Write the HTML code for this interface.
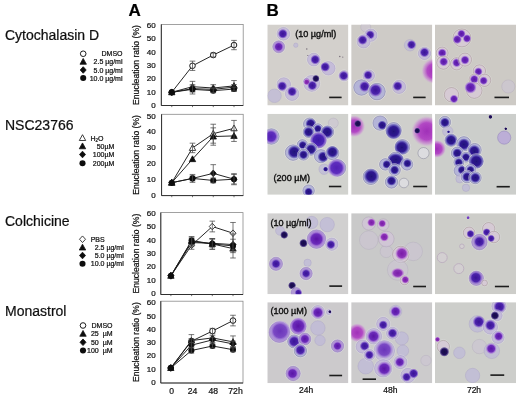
<!DOCTYPE html>
<html><head><meta charset="utf-8"><title>Figure</title>
<style>html,body{margin:0;padding:0;background:#fff;overflow:hidden}svg{display:block}text{font-family:"Liberation Sans",sans-serif;stroke:#111;stroke-width:0.22px;paint-order:stroke}</style>
</head><body>
<svg width="520" height="397" viewBox="0 0 520 397">
<defs>
<clipPath id="pc"><rect x="0" y="0" width="81.1" height="81"/></clipPath>
<filter id="bl" x="-5%" y="-5%" width="110%" height="110%"><feGaussianBlur stdDeviation="0.55"/></filter>
<filter id="bt" x="-5%" y="-5%" width="110%" height="110%"><feGaussianBlur stdDeviation="0.25"/></filter>
<filter id="bc" x="-2%" y="-2%" width="104%" height="104%"><feGaussianBlur stdDeviation="0.3"/></filter>
<radialGradient id="nd" cx="0.5" cy="0.5" r="0.5"><stop offset="0" stop-color="#3a1496"/><stop offset="0.6" stop-color="#4c24ac"/><stop offset="0.8" stop-color="#8a68cc" stop-opacity="0.9"/><stop offset="1" stop-color="#8a68cc" stop-opacity="0"/></radialGradient>
<radialGradient id="nn" cx="0.5" cy="0.5" r="0.5"><stop offset="0" stop-color="#22107a"/><stop offset="0.6" stop-color="#301a92"/><stop offset="0.8" stop-color="#6258b8" stop-opacity="0.9"/><stop offset="1" stop-color="#6258b8" stop-opacity="0"/></radialGradient>
<radialGradient id="nk" cx="0.5" cy="0.5" r="0.5"><stop offset="0" stop-color="#160a48"/><stop offset="0.6" stop-color="#22125c"/><stop offset="0.8" stop-color="#5a4a90" stop-opacity="0.9"/><stop offset="1" stop-color="#5a4a90" stop-opacity="0"/></radialGradient>
<radialGradient id="np" cx="0.5" cy="0.5" r="0.5"><stop offset="0" stop-color="#5a14a6"/><stop offset="0.6" stop-color="#6c2cba"/><stop offset="0.8" stop-color="#a87cd8" stop-opacity="0.9"/><stop offset="1" stop-color="#a87cd8" stop-opacity="0"/></radialGradient>
<radialGradient id="nm" cx="0.5" cy="0.5" r="0.5"><stop offset="0" stop-color="#7a1ca8"/><stop offset="0.6" stop-color="#8c34b8"/><stop offset="0.8" stop-color="#bc80d4" stop-opacity="0.9"/><stop offset="1" stop-color="#bc80d4" stop-opacity="0"/></radialGradient>
<radialGradient id="nl" cx="0.5" cy="0.5" r="0.5"><stop offset="0" stop-color="#6a34ba"/><stop offset="0.6" stop-color="#7a48c4"/><stop offset="0.8" stop-color="#a888d8" stop-opacity="0.9"/><stop offset="1" stop-color="#a888d8" stop-opacity="0"/></radialGradient>
<radialGradient id="nq" cx="0.5" cy="0.5" r="0.5"><stop offset="0" stop-color="#3c18a6"/><stop offset="0.6" stop-color="#4a24b4"/><stop offset="0.8" stop-color="#8a64d0" stop-opacity="0.9"/><stop offset="1" stop-color="#8a64d0" stop-opacity="0"/></radialGradient>
<radialGradient id="nu" cx="0.5" cy="0.5" r="0.5"><stop offset="0" stop-color="#5220b4"/><stop offset="0.6" stop-color="#5e2ebe"/><stop offset="0.8" stop-color="#a07ad8" stop-opacity="0.9"/><stop offset="1" stop-color="#a07ad8" stop-opacity="0"/></radialGradient>
<radialGradient id="mg" cx="0.5" cy="0.5" r="0.5"><stop offset="0" stop-color="#a030b8" stop-opacity="1"/><stop offset="0.55" stop-color="#b248c4" stop-opacity="1"/><stop offset="0.82" stop-color="#c884d2" stop-opacity="0.65"/><stop offset="1" stop-color="#d4b0d8" stop-opacity="0"/></radialGradient>
</defs>
<rect width="520" height="397" fill="#fff"/>
<g filter="url(#bc)">
<text x="5" y="39.5" font-size="14" fill="#111">Cytochalasin D</text>
<text x="5" y="130" font-size="14" fill="#111">NSC23766</text>
<text x="5" y="225.8" font-size="14" fill="#111">Colchicine</text>
<text x="5" y="316" font-size="14" fill="#111">Monastrol</text>
<text x="128.6" y="16.2" font-size="17" font-weight="700" fill="#000">A</text>
<text x="266.5" y="16.2" font-size="17" font-weight="700" fill="#000">B</text>
<circle cx="83.20" cy="53.75" r="2.8" fill="#fff" stroke="#111" stroke-width="0.95"/>
<text x="122.5" y="56.25" font-size="7" text-anchor="end" fill="#111" xml:space="preserve">DMSO</text>
<path d="M83.20 58.45 L86.40 64.25 L80.00 64.25 Z" fill="#111" stroke="#111" stroke-width="0.8"/>
<text x="122.5" y="64.25" font-size="7" text-anchor="end" fill="#111" xml:space="preserve">2.5 µg/ml</text>
<path d="M83.20 66.70 L86.20 70.00 L83.20 73.30 L80.20 70.00 Z" fill="#111" stroke="#111" stroke-width="0.8"/>
<text x="122.5" y="72.5" font-size="7" text-anchor="end" fill="#111" xml:space="preserve">5.0 µg/ml</text>
<circle cx="83.20" cy="78.00" r="3.05" fill="#111"/>
<text x="122.5" y="80.5" font-size="7" text-anchor="end" fill="#111" xml:space="preserve">10.0 µg/ml</text>
<path d="M82.50 134.70 L85.70 140.50 L79.30 140.50 Z" fill="#fff" stroke="#111" stroke-width="0.8"/>
<text x="90.5" y="140.5" font-size="7" fill="#111">H<tspan font-size="4.5" dy="1.2">2</tspan><tspan dy="-1.2">O</tspan></text>
<path d="M82.50 142.95 L85.70 148.75 L79.30 148.75 Z" fill="#111" stroke="#111" stroke-width="0.8"/>
<text x="114.3" y="148.75" font-size="7" text-anchor="end" fill="#111" xml:space="preserve">50µM</text>
<path d="M82.50 151.20 L85.50 154.50 L82.50 157.80 L79.50 154.50 Z" fill="#111" stroke="#111" stroke-width="0.8"/>
<text x="114.3" y="157.0" font-size="7" text-anchor="end" fill="#111" xml:space="preserve">100µM</text>
<circle cx="82.50" cy="163.25" r="3.05" fill="#111"/>
<text x="114.3" y="165.75" font-size="7" text-anchor="end" fill="#111" xml:space="preserve">200µM</text>
<path d="M82.50 235.95 L85.50 239.25 L82.50 242.55 L79.50 239.25 Z" fill="#fff" stroke="#111" stroke-width="0.8"/>
<text x="90.7" y="241.75" font-size="7" fill="#111">PBS</text>
<path d="M82.50 244.20 L85.70 250.00 L79.30 250.00 Z" fill="#111" stroke="#111" stroke-width="0.8"/>
<text x="123.7" y="250.0" font-size="7" text-anchor="end" fill="#111" xml:space="preserve">2.5 µg/ml</text>
<path d="M82.50 252.20 L85.50 255.50 L82.50 258.80 L79.50 255.50 Z" fill="#111" stroke="#111" stroke-width="0.8"/>
<text x="123.7" y="258.0" font-size="7" text-anchor="end" fill="#111" xml:space="preserve">5.0 µg/ml</text>
<circle cx="82.50" cy="263.75" r="3.05" fill="#111"/>
<text x="123.7" y="266.25" font-size="7" text-anchor="end" fill="#111" xml:space="preserve">10.0 µg/ml</text>
<circle cx="83.00" cy="325.50" r="2.8" fill="#fff" stroke="#111" stroke-width="0.95"/>
<text x="112.5" y="328.0" font-size="7" text-anchor="end" fill="#111" xml:space="preserve">DMSO</text>
<path d="M83.00 330.45 L86.20 336.25 L79.80 336.25 Z" fill="#111" stroke="#111" stroke-width="0.8"/>
<text x="112.5" y="336.25" font-size="7" text-anchor="end" fill="#111" xml:space="preserve">25  µM</text>
<path d="M83.00 338.95 L86.00 342.25 L83.00 345.55 L80.00 342.25 Z" fill="#111" stroke="#111" stroke-width="0.8"/>
<text x="112.5" y="344.75" font-size="7" text-anchor="end" fill="#111" xml:space="preserve">50  µM</text>
<circle cx="83.00" cy="350.50" r="3.05" fill="#111"/>
<text x="112.5" y="353.0" font-size="7" text-anchor="end" fill="#111" xml:space="preserve">100  µM</text>
<rect x="161.3" y="24.5" width="81.89999999999998" height="81.0" fill="#fff" stroke="#8a8a8a" stroke-width="0.8"/>
<path d="M161.3 24.5 V105.5 H243.2" fill="none" stroke="#222" stroke-width="0.9"/>
<path d="M171.75 105.5 v1.6" stroke="#333" stroke-width="0.7"/>
<path d="M192.5 105.5 v1.6" stroke="#333" stroke-width="0.7"/>
<path d="M213.25 105.5 v1.6" stroke="#333" stroke-width="0.7"/>
<path d="M234.0 105.5 v1.6" stroke="#333" stroke-width="0.7"/>
<text x="155.6" y="107.90" font-size="8" text-anchor="end" fill="#111">0</text>
<text x="155.6" y="94.60" font-size="8" text-anchor="end" fill="#111">10</text>
<text x="155.6" y="81.30" font-size="8" text-anchor="end" fill="#111">20</text>
<text x="155.6" y="68.00" font-size="8" text-anchor="end" fill="#111">30</text>
<text x="155.6" y="54.70" font-size="8" text-anchor="end" fill="#111">40</text>
<text x="155.6" y="41.40" font-size="8" text-anchor="end" fill="#111">50</text>
<text x="155.6" y="28.10" font-size="8" text-anchor="end" fill="#111">60</text>
<text transform="translate(138.6,65.0) rotate(-90)" font-size="8.6" text-anchor="middle" fill="#111">Enucleation ratio (%)</text>
<polyline points="171.75,92.27 192.50,65.80 213.25,55.03 234.00,45.05" fill="none" stroke="#1a1a1a" stroke-width="0.95"/>
<polyline points="171.75,92.27 192.50,86.68 213.25,88.01 234.00,85.88" fill="none" stroke="#1a1a1a" stroke-width="0.95"/>
<polyline points="171.75,92.27 192.50,88.67 213.25,89.34 234.00,87.21" fill="none" stroke="#1a1a1a" stroke-width="0.95"/>
<polyline points="171.75,92.27 192.50,89.34 213.25,90.67 234.00,89.07" fill="none" stroke="#1a1a1a" stroke-width="0.95"/>
<circle cx="171.75" cy="92.27" r="2.8" fill="#fff" stroke="#111" stroke-width="0.95"/>
<circle cx="192.50" cy="65.80" r="2.8" fill="#fff" stroke="#111" stroke-width="0.95"/>
<circle cx="213.25" cy="55.03" r="2.8" fill="#fff" stroke="#111" stroke-width="0.95"/>
<circle cx="234.00" cy="45.05" r="2.8" fill="#fff" stroke="#111" stroke-width="0.95"/>
<path d="M192.5 61.14 V70.45 M189.7 61.14 h5.6 M189.7 70.45 h5.6" stroke="#4a4a4a" stroke-width="0.75" fill="none"/>
<path d="M213.25 53.03 V57.02 M210.45 53.03 h5.6 M210.45 57.02 h5.6" stroke="#4a4a4a" stroke-width="0.75" fill="none"/>
<path d="M234.0 40.40 V49.71 M231.2 40.40 h5.6 M231.2 49.71 h5.6" stroke="#4a4a4a" stroke-width="0.75" fill="none"/>
<path d="M171.75 88.97 L174.95 94.77 L168.55 94.77 Z" fill="#111" stroke="#111" stroke-width="0.8"/>
<path d="M192.50 83.38 L195.70 89.18 L189.30 89.18 Z" fill="#111" stroke="#111" stroke-width="0.8"/>
<path d="M213.25 84.71 L216.45 90.51 L210.05 90.51 Z" fill="#111" stroke="#111" stroke-width="0.8"/>
<path d="M234.00 82.58 L237.20 88.38 L230.80 88.38 Z" fill="#111" stroke="#111" stroke-width="0.8"/>
<path d="M192.5 81.36 V92.00 M189.7 81.36 h5.6 M189.7 92.00 h5.6" stroke="#4a4a4a" stroke-width="0.75" fill="none"/>
<path d="M213.25 84.69 V91.33 M210.45 84.69 h5.6 M210.45 91.33 h5.6" stroke="#4a4a4a" stroke-width="0.75" fill="none"/>
<path d="M234.0 80.56 V91.20 M231.2 80.56 h5.6 M231.2 91.20 h5.6" stroke="#4a4a4a" stroke-width="0.75" fill="none"/>
<path d="M171.75 88.97 L174.75 92.27 L171.75 95.57 L168.75 92.27 Z" fill="#111" stroke="#111" stroke-width="0.8"/>
<path d="M192.50 85.38 L195.50 88.67 L192.50 91.97 L189.50 88.67 Z" fill="#111" stroke="#111" stroke-width="0.8"/>
<path d="M213.25 86.04 L216.25 89.34 L213.25 92.64 L210.25 89.34 Z" fill="#111" stroke="#111" stroke-width="0.8"/>
<path d="M234.00 83.91 L237.00 87.21 L234.00 90.51 L231.00 87.21 Z" fill="#111" stroke="#111" stroke-width="0.8"/>
<path d="M192.5 86.01 V91.33 M189.7 86.01 h5.6 M189.7 91.33 h5.6" stroke="#4a4a4a" stroke-width="0.75" fill="none"/>
<path d="M213.25 87.34 V91.33 M210.45 87.34 h5.6 M210.45 91.33 h5.6" stroke="#4a4a4a" stroke-width="0.75" fill="none"/>
<path d="M234.0 84.55 V89.87 M231.2 84.55 h5.6 M231.2 89.87 h5.6" stroke="#4a4a4a" stroke-width="0.75" fill="none"/>
<circle cx="171.75" cy="92.27" r="3.05" fill="#111"/>
<circle cx="192.50" cy="89.34" r="3.05" fill="#111"/>
<circle cx="213.25" cy="90.67" r="3.05" fill="#111"/>
<circle cx="234.00" cy="89.07" r="3.05" fill="#111"/>
<path d="M192.5 84.69 V93.99 M189.7 84.69 h5.6 M189.7 93.99 h5.6" stroke="#4a4a4a" stroke-width="0.75" fill="none"/>
<path d="M213.25 88.67 V92.66 M210.45 88.67 h5.6 M210.45 92.66 h5.6" stroke="#4a4a4a" stroke-width="0.75" fill="none"/>
<path d="M234.0 87.08 V91.07 M231.2 87.08 h5.6 M231.2 91.07 h5.6" stroke="#4a4a4a" stroke-width="0.75" fill="none"/>
<rect x="161.6" y="114.3" width="81.6" height="81.3" fill="#fff" stroke="#8a8a8a" stroke-width="0.8"/>
<path d="M161.6 114.3 V195.6 H243.2" fill="none" stroke="#222" stroke-width="0.9"/>
<path d="M171.75 195.6 v1.6" stroke="#333" stroke-width="0.7"/>
<path d="M192.5 195.6 v1.6" stroke="#333" stroke-width="0.7"/>
<path d="M213.25 195.6 v1.6" stroke="#333" stroke-width="0.7"/>
<path d="M234.0 195.6 v1.6" stroke="#333" stroke-width="0.7"/>
<text x="155.6" y="197.60" font-size="8" text-anchor="end" fill="#111">0</text>
<text x="155.6" y="181.80" font-size="8" text-anchor="end" fill="#111">10</text>
<text x="155.6" y="166.00" font-size="8" text-anchor="end" fill="#111">20</text>
<text x="155.6" y="150.20" font-size="8" text-anchor="end" fill="#111">30</text>
<text x="155.6" y="134.40" font-size="8" text-anchor="end" fill="#111">40</text>
<text x="155.6" y="118.60" font-size="8" text-anchor="end" fill="#111">50</text>
<text transform="translate(138.6,154.9) rotate(-90)" font-size="8.6" text-anchor="middle" fill="#111">Enucleation ratio (%)</text>
<polyline points="171.75,182.68 192.50,147.92 213.25,133.70 234.00,128.32" fill="none" stroke="#1a1a1a" stroke-width="0.95"/>
<polyline points="171.75,182.68 192.50,159.13 213.25,136.54 234.00,135.91" fill="none" stroke="#1a1a1a" stroke-width="0.95"/>
<polyline points="171.75,182.68 192.50,178.41 213.25,173.35 234.00,179.20" fill="none" stroke="#1a1a1a" stroke-width="0.95"/>
<polyline points="171.75,182.68 192.50,178.41 213.25,180.46 234.00,179.20" fill="none" stroke="#1a1a1a" stroke-width="0.95"/>
<path d="M171.75 179.38 L174.95 185.18 L168.55 185.18 Z" fill="#fff" stroke="#111" stroke-width="0.8"/>
<path d="M192.50 144.62 L195.70 150.42 L189.30 150.42 Z" fill="#fff" stroke="#111" stroke-width="0.8"/>
<path d="M213.25 130.40 L216.45 136.20 L210.05 136.20 Z" fill="#fff" stroke="#111" stroke-width="0.8"/>
<path d="M234.00 125.02 L237.20 130.82 L230.80 130.82 Z" fill="#fff" stroke="#111" stroke-width="0.8"/>
<path d="M192.5 143.18 V152.66 M189.7 143.18 h5.6 M189.7 152.66 h5.6" stroke="#4a4a4a" stroke-width="0.75" fill="none"/>
<path d="M213.25 124.22 V143.18 M210.45 124.22 h5.6 M210.45 143.18 h5.6" stroke="#4a4a4a" stroke-width="0.75" fill="none"/>
<path d="M234.0 120.42 V136.22 M231.2 120.42 h5.6 M231.2 136.22 h5.6" stroke="#4a4a4a" stroke-width="0.75" fill="none"/>
<path d="M171.75 179.38 L174.95 185.18 L168.55 185.18 Z" fill="#111" stroke="#111" stroke-width="0.8"/>
<path d="M192.50 155.83 L195.70 161.63 L189.30 161.63 Z" fill="#111" stroke="#111" stroke-width="0.8"/>
<path d="M213.25 133.24 L216.45 139.04 L210.05 139.04 Z" fill="#111" stroke="#111" stroke-width="0.8"/>
<path d="M234.00 132.61 L237.20 138.41 L230.80 138.41 Z" fill="#111" stroke="#111" stroke-width="0.8"/>
<path d="M213.25 127.85 V145.23 M210.45 127.85 h5.6 M210.45 145.23 h5.6" stroke="#4a4a4a" stroke-width="0.75" fill="none"/>
<path d="M234.0 130.38 V141.44 M231.2 130.38 h5.6 M231.2 141.44 h5.6" stroke="#4a4a4a" stroke-width="0.75" fill="none"/>
<path d="M171.75 179.38 L174.75 182.68 L171.75 185.98 L168.75 182.68 Z" fill="#111" stroke="#111" stroke-width="0.8"/>
<path d="M192.50 175.11 L195.50 178.41 L192.50 181.71 L189.50 178.41 Z" fill="#111" stroke="#111" stroke-width="0.8"/>
<path d="M213.25 170.05 L216.25 173.35 L213.25 176.65 L210.25 173.35 Z" fill="#111" stroke="#111" stroke-width="0.8"/>
<path d="M234.00 175.90 L237.00 179.20 L234.00 182.50 L231.00 179.20 Z" fill="#111" stroke="#111" stroke-width="0.8"/>
<path d="M192.5 176.04 V180.78 M189.7 176.04 h5.6 M189.7 180.78 h5.6" stroke="#4a4a4a" stroke-width="0.75" fill="none"/>
<path d="M213.25 164.66 V182.04 M210.45 164.66 h5.6 M210.45 182.04 h5.6" stroke="#4a4a4a" stroke-width="0.75" fill="none"/>
<path d="M234.0 173.67 V184.73 M231.2 173.67 h5.6 M231.2 184.73 h5.6" stroke="#4a4a4a" stroke-width="0.75" fill="none"/>
<circle cx="171.75" cy="182.68" r="3.05" fill="#111"/>
<circle cx="192.50" cy="178.41" r="3.05" fill="#111"/>
<circle cx="213.25" cy="180.46" r="3.05" fill="#111"/>
<circle cx="234.00" cy="179.20" r="3.05" fill="#111"/>
<path d="M192.5 174.46 V182.36 M189.7 174.46 h5.6 M189.7 182.36 h5.6" stroke="#4a4a4a" stroke-width="0.75" fill="none"/>
<path d="M213.25 178.09 V182.83 M210.45 178.09 h5.6 M210.45 182.83 h5.6" stroke="#4a4a4a" stroke-width="0.75" fill="none"/>
<path d="M234.0 174.46 V183.94 M231.2 174.46 h5.6 M231.2 183.94 h5.6" stroke="#4a4a4a" stroke-width="0.75" fill="none"/>
<rect x="160.8" y="212.6" width="82.19999999999999" height="81.9" fill="#fff" stroke="#8a8a8a" stroke-width="0.8"/>
<path d="M160.8 212.6 V294.5 H243" fill="none" stroke="#222" stroke-width="0.9"/>
<path d="M170.9 294.5 v1.6" stroke="#333" stroke-width="0.7"/>
<path d="M191.6 294.5 v1.6" stroke="#333" stroke-width="0.7"/>
<path d="M212.3 294.5 v1.6" stroke="#333" stroke-width="0.7"/>
<path d="M233.0 294.5 v1.6" stroke="#333" stroke-width="0.7"/>
<text x="155.6" y="296.10" font-size="8" text-anchor="end" fill="#111">0</text>
<text x="155.6" y="282.70" font-size="8" text-anchor="end" fill="#111">10</text>
<text x="155.6" y="269.30" font-size="8" text-anchor="end" fill="#111">20</text>
<text x="155.6" y="255.90" font-size="8" text-anchor="end" fill="#111">30</text>
<text x="155.6" y="242.50" font-size="8" text-anchor="end" fill="#111">40</text>
<text x="155.6" y="229.10" font-size="8" text-anchor="end" fill="#111">50</text>
<text x="155.6" y="215.70" font-size="8" text-anchor="end" fill="#111">60</text>
<text transform="translate(138.6,253.6) rotate(-90)" font-size="8.6" text-anchor="middle" fill="#111">Enucleation ratio (%)</text>
<polyline points="170.90,275.81 191.60,245.26 212.30,226.50 233.00,233.20" fill="none" stroke="#1a1a1a" stroke-width="0.95"/>
<polyline points="170.90,275.81 191.60,241.24 212.30,243.92 233.00,248.61" fill="none" stroke="#1a1a1a" stroke-width="0.95"/>
<polyline points="170.90,275.81 191.60,242.58 212.30,243.25 233.00,244.59" fill="none" stroke="#1a1a1a" stroke-width="0.95"/>
<polyline points="170.90,275.81 191.60,240.57 212.30,243.92 233.00,245.93" fill="none" stroke="#1a1a1a" stroke-width="0.95"/>
<path d="M170.90 272.51 L173.90 275.81 L170.90 279.11 L167.90 275.81 Z" fill="#fff" stroke="#111" stroke-width="0.8"/>
<path d="M191.60 241.96 L194.60 245.26 L191.60 248.56 L188.60 245.26 Z" fill="#fff" stroke="#111" stroke-width="0.8"/>
<path d="M212.30 223.20 L215.30 226.50 L212.30 229.80 L209.30 226.50 Z" fill="#fff" stroke="#111" stroke-width="0.8"/>
<path d="M233.00 229.90 L236.00 233.20 L233.00 236.50 L230.00 233.20 Z" fill="#fff" stroke="#111" stroke-width="0.8"/>
<path d="M191.6 241.24 V249.28 M188.79999999999998 241.24 h5.6 M188.79999999999998 249.28 h5.6" stroke="#4a4a4a" stroke-width="0.75" fill="none"/>
<path d="M212.3 221.14 V231.86 M209.5 221.14 h5.6 M209.5 231.86 h5.6" stroke="#4a4a4a" stroke-width="0.75" fill="none"/>
<path d="M233.0 222.48 V243.92 M230.2 222.48 h5.6 M230.2 243.92 h5.6" stroke="#4a4a4a" stroke-width="0.75" fill="none"/>
<path d="M170.90 272.51 L174.10 278.31 L167.70 278.31 Z" fill="#111" stroke="#111" stroke-width="0.8"/>
<path d="M191.60 237.94 L194.80 243.74 L188.40 243.74 Z" fill="#111" stroke="#111" stroke-width="0.8"/>
<path d="M212.30 240.62 L215.50 246.42 L209.10 246.42 Z" fill="#111" stroke="#111" stroke-width="0.8"/>
<path d="M233.00 245.31 L236.20 251.11 L229.80 251.11 Z" fill="#111" stroke="#111" stroke-width="0.8"/>
<path d="M191.6 237.22 V245.26 M188.79999999999998 237.22 h5.6 M188.79999999999998 245.26 h5.6" stroke="#4a4a4a" stroke-width="0.75" fill="none"/>
<path d="M212.3 238.56 V249.28 M209.5 238.56 h5.6 M209.5 249.28 h5.6" stroke="#4a4a4a" stroke-width="0.75" fill="none"/>
<path d="M233.0 244.59 V252.63 M230.2 244.59 h5.6 M230.2 252.63 h5.6" stroke="#4a4a4a" stroke-width="0.75" fill="none"/>
<path d="M170.90 272.51 L173.90 275.81 L170.90 279.11 L167.90 275.81 Z" fill="#111" stroke="#111" stroke-width="0.8"/>
<path d="M191.60 239.28 L194.60 242.58 L191.60 245.88 L188.60 242.58 Z" fill="#111" stroke="#111" stroke-width="0.8"/>
<path d="M212.30 239.95 L215.30 243.25 L212.30 246.55 L209.30 243.25 Z" fill="#111" stroke="#111" stroke-width="0.8"/>
<path d="M233.00 241.29 L236.00 244.59 L233.00 247.89 L230.00 244.59 Z" fill="#111" stroke="#111" stroke-width="0.8"/>
<path d="M191.6 238.56 V246.60 M188.79999999999998 238.56 h5.6 M188.79999999999998 246.60 h5.6" stroke="#4a4a4a" stroke-width="0.75" fill="none"/>
<path d="M212.3 239.23 V247.27 M209.5 239.23 h5.6 M209.5 247.27 h5.6" stroke="#4a4a4a" stroke-width="0.75" fill="none"/>
<path d="M233.0 239.23 V249.95 M230.2 239.23 h5.6 M230.2 249.95 h5.6" stroke="#4a4a4a" stroke-width="0.75" fill="none"/>
<circle cx="170.90" cy="275.81" r="3.05" fill="#111"/>
<circle cx="191.60" cy="240.57" r="3.05" fill="#111"/>
<circle cx="212.30" cy="243.92" r="3.05" fill="#111"/>
<circle cx="233.00" cy="245.93" r="3.05" fill="#111"/>
<path d="M191.6 236.55 V244.59 M188.79999999999998 236.55 h5.6 M188.79999999999998 244.59 h5.6" stroke="#4a4a4a" stroke-width="0.75" fill="none"/>
<path d="M212.3 238.56 V249.28 M209.5 238.56 h5.6 M209.5 249.28 h5.6" stroke="#4a4a4a" stroke-width="0.75" fill="none"/>
<path d="M233.0 233.87 V257.99 M230.2 233.87 h5.6 M230.2 257.99 h5.6" stroke="#4a4a4a" stroke-width="0.75" fill="none"/>
<rect x="160.8" y="301.2" width="82.19999999999999" height="81.80000000000001" fill="#fff" stroke="#8a8a8a" stroke-width="0.8"/>
<path d="M160.8 301.2 V383 H243" fill="none" stroke="#222" stroke-width="0.9"/>
<text x="155.6" y="384.90" font-size="8" text-anchor="end" fill="#111">0</text>
<text x="155.6" y="371.65" font-size="8" text-anchor="end" fill="#111">10</text>
<text x="155.6" y="358.40" font-size="8" text-anchor="end" fill="#111">20</text>
<text x="155.6" y="345.15" font-size="8" text-anchor="end" fill="#111">30</text>
<text x="155.6" y="331.90" font-size="8" text-anchor="end" fill="#111">40</text>
<text x="155.6" y="318.65" font-size="8" text-anchor="end" fill="#111">50</text>
<text x="155.6" y="305.40" font-size="8" text-anchor="end" fill="#111">60</text>
<text transform="translate(138.6,342.1) rotate(-90)" font-size="8.6" text-anchor="middle" fill="#111">Enucleation ratio (%)</text>
<polyline points="170.80,367.99 191.40,341.23 212.50,331.02 233.00,320.56" fill="none" stroke="#1a1a1a" stroke-width="0.95"/>
<polyline points="170.80,367.99 191.40,340.56 212.50,337.91 233.00,341.89" fill="none" stroke="#1a1a1a" stroke-width="0.95"/>
<polyline points="170.80,367.99 191.40,345.20 212.50,339.90 233.00,343.88" fill="none" stroke="#1a1a1a" stroke-width="0.95"/>
<polyline points="170.80,367.99 191.40,350.50 212.50,346.00 233.00,349.70" fill="none" stroke="#1a1a1a" stroke-width="0.95"/>
<circle cx="170.80" cy="367.99" r="2.8" fill="#fff" stroke="#111" stroke-width="0.95"/>
<circle cx="191.40" cy="341.23" r="2.8" fill="#fff" stroke="#111" stroke-width="0.95"/>
<circle cx="212.50" cy="331.02" r="2.8" fill="#fff" stroke="#111" stroke-width="0.95"/>
<circle cx="233.00" cy="320.56" r="2.8" fill="#fff" stroke="#111" stroke-width="0.95"/>
<path d="M191.4 338.57 V343.88 M188.6 338.57 h5.6 M188.6 343.88 h5.6" stroke="#4a4a4a" stroke-width="0.75" fill="none"/>
<path d="M212.5 328.37 V333.67 M209.7 328.37 h5.6 M209.7 333.67 h5.6" stroke="#4a4a4a" stroke-width="0.75" fill="none"/>
<path d="M233.0 315.25 V325.86 M230.2 315.25 h5.6 M230.2 325.86 h5.6" stroke="#4a4a4a" stroke-width="0.75" fill="none"/>
<path d="M170.80 364.69 L174.00 370.49 L167.60 370.49 Z" fill="#111" stroke="#111" stroke-width="0.8"/>
<path d="M191.40 337.26 L194.60 343.06 L188.20 343.06 Z" fill="#111" stroke="#111" stroke-width="0.8"/>
<path d="M212.50 334.61 L215.70 340.41 L209.30 340.41 Z" fill="#111" stroke="#111" stroke-width="0.8"/>
<path d="M233.00 338.59 L236.20 344.39 L229.80 344.39 Z" fill="#111" stroke="#111" stroke-width="0.8"/>
<path d="M191.4 334.60 V346.53 M188.6 334.60 h5.6 M188.6 346.53 h5.6" stroke="#4a4a4a" stroke-width="0.75" fill="none"/>
<path d="M212.5 335.26 V340.56 M209.7 335.26 h5.6 M209.7 340.56 h5.6" stroke="#4a4a4a" stroke-width="0.75" fill="none"/>
<path d="M233.0 335.93 V347.85 M230.2 335.93 h5.6 M230.2 347.85 h5.6" stroke="#4a4a4a" stroke-width="0.75" fill="none"/>
<path d="M170.80 364.69 L173.80 367.99 L170.80 371.29 L167.80 367.99 Z" fill="#111" stroke="#111" stroke-width="0.8"/>
<path d="M191.40 341.90 L194.40 345.20 L191.40 348.50 L188.40 345.20 Z" fill="#111" stroke="#111" stroke-width="0.8"/>
<path d="M212.50 336.60 L215.50 339.90 L212.50 343.20 L209.50 339.90 Z" fill="#111" stroke="#111" stroke-width="0.8"/>
<path d="M233.00 340.57 L236.00 343.88 L233.00 347.18 L230.00 343.88 Z" fill="#111" stroke="#111" stroke-width="0.8"/>
<path d="M191.4 342.55 V347.85 M188.6 342.55 h5.6 M188.6 347.85 h5.6" stroke="#4a4a4a" stroke-width="0.75" fill="none"/>
<path d="M212.5 337.25 V342.55 M209.7 337.25 h5.6 M209.7 342.55 h5.6" stroke="#4a4a4a" stroke-width="0.75" fill="none"/>
<path d="M233.0 341.23 V346.53 M230.2 341.23 h5.6 M230.2 346.53 h5.6" stroke="#4a4a4a" stroke-width="0.75" fill="none"/>
<circle cx="170.80" cy="367.99" r="3.05" fill="#111"/>
<circle cx="191.40" cy="350.50" r="3.05" fill="#111"/>
<circle cx="212.50" cy="346.00" r="3.05" fill="#111"/>
<circle cx="233.00" cy="349.70" r="3.05" fill="#111"/>
<path d="M191.4 347.85 V353.15 M188.6 347.85 h5.6 M188.6 353.15 h5.6" stroke="#4a4a4a" stroke-width="0.75" fill="none"/>
<path d="M212.5 344.01 V347.98 M209.7 344.01 h5.6 M209.7 347.98 h5.6" stroke="#4a4a4a" stroke-width="0.75" fill="none"/>
<path d="M233.0 347.72 V351.69 M230.2 347.72 h5.6 M230.2 351.69 h5.6" stroke="#4a4a4a" stroke-width="0.75" fill="none"/>
<text x="171.75" y="394.0" font-size="8.6" text-anchor="middle" fill="#111">0</text>
<text x="192.5" y="394.0" font-size="8.6" text-anchor="middle" fill="#111">24</text>
<text x="213.25" y="394.0" font-size="8.6" text-anchor="middle" fill="#111">48</text>
<text x="235.5" y="394.0" font-size="8.6" text-anchor="middle" fill="#111">72h</text>
<text x="306.2" y="393" font-size="8.5" text-anchor="middle" fill="#111">24h</text>
<text x="390.3" y="393" font-size="8.5" text-anchor="middle" fill="#111">48h</text>
<text x="474" y="393" font-size="8.5" text-anchor="middle" fill="#111">72h</text>
</g>
<g transform="translate(267.3,24.5)" clip-path="url(#pc)">
<rect x="0" y="0" width="81.1" height="81" fill="#d3d0cc"/>
<g filter="url(#bl)">
<circle cx="16.1" cy="9.3" r="6.95" fill="none" stroke="#ecebf2" stroke-width="0.8" stroke-opacity="0.5"/>
<circle cx="16.1" cy="9.3" r="6.4" fill="#c2b8dc" fill-opacity="0.8" stroke="#9c90c0" stroke-width="0.6" stroke-opacity="0.6"/>
<ellipse cx="15.5" cy="9.3" rx="4.95" ry="4.95" fill="url(#nd)"/>
<circle cx="11.4" cy="22.3" r="6.55" fill="none" stroke="#ecebf2" stroke-width="0.8" stroke-opacity="0.5"/>
<circle cx="11.4" cy="22.3" r="6" fill="#aa90d4" fill-opacity="0.85" stroke="#8c70bc" stroke-width="0.6" stroke-opacity="0.65"/>
<ellipse cx="11.4" cy="22.3" rx="5.25" ry="5.25" fill="url(#np)"/>
<circle cx="28.5" cy="20.7" r="2.2" fill="#bfb9d8" fill-opacity="0.75" stroke="#a39bc2" stroke-width="0.6" stroke-opacity="0.55"/>
<circle cx="46.5" cy="35.1" r="6.95" fill="none" stroke="#ecebf2" stroke-width="0.8" stroke-opacity="0.5"/>
<circle cx="46.5" cy="35.1" r="6.4" fill="#c2b8dc" fill-opacity="0.8" stroke="#9c90c0" stroke-width="0.6" stroke-opacity="0.6"/>
<ellipse cx="47.9" cy="35.1" rx="4.95" ry="4.95" fill="url(#nd)"/>
<circle cx="61" cy="43.8" r="7.35" fill="none" stroke="#ecebf2" stroke-width="0.8" stroke-opacity="0.5"/>
<circle cx="61" cy="43.8" r="6.8" fill="#c2b8dc" fill-opacity="0.8" stroke="#9c90c0" stroke-width="0.6" stroke-opacity="0.6"/>
<ellipse cx="57.9" cy="42.4" rx="4.95" ry="4.95" fill="url(#nd)"/>
<circle cx="76.8" cy="51.2" r="5.75" fill="none" stroke="#ecebf2" stroke-width="0.8" stroke-opacity="0.5"/>
<circle cx="76.8" cy="51.2" r="5.2" fill="#c2b8dc" fill-opacity="0.8" stroke="#9c90c0" stroke-width="0.6" stroke-opacity="0.6"/>
<ellipse cx="76.4" cy="51.2" rx="4.95" ry="4.95" fill="url(#nd)"/>
<circle cx="44.4" cy="58.9" r="8.55" fill="none" stroke="#ecebf2" stroke-width="0.8" stroke-opacity="0.5"/>
<circle cx="44.4" cy="58.9" r="8" fill="#c2b8dc" fill-opacity="0.8" stroke="#9c90c0" stroke-width="0.6" stroke-opacity="0.6"/>
<circle cx="39.3" cy="56.8" r="3.55" fill="none" stroke="#ecebf2" stroke-width="0.8" stroke-opacity="0.5"/>
<circle cx="39.3" cy="56.8" r="3" fill="#aa90d4" fill-opacity="0.85" stroke="#8c70bc" stroke-width="0.6" stroke-opacity="0.65"/>
<ellipse cx="39.5" cy="57.5" rx="3.30" ry="3.30" fill="url(#nm)"/>
<ellipse cx="48.6" cy="54.1" rx="3.75" ry="3.75" fill="url(#nk)"/>
<ellipse cx="45" cy="61" rx="4.95" ry="4.95" fill="url(#nd)"/>
<circle cx="16.5" cy="60" r="7.35" fill="none" stroke="#ecebf2" stroke-width="0.8" stroke-opacity="0.5"/>
<circle cx="16.5" cy="60" r="6.8" fill="#c2b8dc" fill-opacity="0.8" stroke="#9c90c0" stroke-width="0.6" stroke-opacity="0.6"/>
<ellipse cx="14.9" cy="61.6" rx="4.95" ry="4.95" fill="url(#nd)"/>
<circle cx="24.8" cy="69.2" r="7.35" fill="none" stroke="#ecebf2" stroke-width="0.8" stroke-opacity="0.5"/>
<circle cx="24.8" cy="69.2" r="6.8" fill="#c2b8dc" fill-opacity="0.8" stroke="#9c90c0" stroke-width="0.6" stroke-opacity="0.6"/>
<ellipse cx="24.8" cy="67.1" rx="4.95" ry="4.95" fill="url(#nd)"/>
<circle cx="7.2" cy="71.3" r="6.8" fill="#bfb9d8" fill-opacity="0.75" stroke="#a39bc2" stroke-width="0.6" stroke-opacity="0.55"/>
<circle cx="39.5" cy="24.5" r="0.7" fill="#4a3c50" fill-opacity="0.7"/>
<circle cx="40.5" cy="31" r="0.6" fill="#4a3c50" fill-opacity="0.7"/>
<circle cx="72.5" cy="32" r="0.7" fill="#4a3c50" fill-opacity="0.7"/>
<circle cx="75.5" cy="32.6" r="0.6" fill="#4a3c50" fill-opacity="0.7"/>
</g>
<g filter="url(#bt)"><rect x="61.9" y="72.10000000000001" width="12.399999999999999" height="1.6" fill="#1a1a1a"/><text x="27.9" y="12.2" font-size="9.1" fill="#111" style="stroke-width:0.38px">(10 µg/ml)</text></g>
</g>
<g transform="translate(351.2,24.5)" clip-path="url(#pc)">
<rect x="0" y="0" width="81.1" height="81" fill="#cecbc7"/>
<g filter="url(#bl)">
<circle cx="14.5" cy="2.5" r="5" fill="#cbc4d4" fill-opacity="0.6" stroke="#aaa0b6" stroke-width="0.6" stroke-opacity="0.5"/>
<circle cx="19.6" cy="10.7" r="6.75" fill="none" stroke="#ecebf2" stroke-width="0.8" stroke-opacity="0.5"/>
<circle cx="19.6" cy="10.7" r="6.2" fill="#c2b8dc" fill-opacity="0.8" stroke="#9c90c0" stroke-width="0.6" stroke-opacity="0.6"/>
<ellipse cx="19" cy="10.3" rx="4.65" ry="4.65" fill="url(#nd)"/>
<circle cx="12.4" cy="16.9" r="7.15" fill="none" stroke="#ecebf2" stroke-width="0.8" stroke-opacity="0.5"/>
<circle cx="12.4" cy="16.9" r="6.6" fill="#c2b8dc" fill-opacity="0.8" stroke="#9c90c0" stroke-width="0.6" stroke-opacity="0.6"/>
<ellipse cx="11.4" cy="15.5" rx="4.95" ry="4.95" fill="url(#nd)"/>
<circle cx="58.9" cy="20.7" r="5.8" fill="#bfb9d8" fill-opacity="0.75" stroke="#a39bc2" stroke-width="0.6" stroke-opacity="0.55"/>
<ellipse cx="60.3" cy="20.2" rx="4.65" ry="4.65" fill="url(#nd)"/>
<circle cx="73.3" cy="28.9" r="6.75" fill="none" stroke="#ecebf2" stroke-width="0.8" stroke-opacity="0.5"/>
<circle cx="73.3" cy="28.9" r="6.2" fill="#c2b8dc" fill-opacity="0.8" stroke="#9c90c0" stroke-width="0.6" stroke-opacity="0.6"/>
<ellipse cx="73.3" cy="27.9" rx="4.95" ry="4.95" fill="url(#nd)"/>
<circle cx="83" cy="46.5" r="13" fill="url(#mg)"/>
<circle cx="17.5" cy="51.2" r="6.35" fill="none" stroke="#ecebf2" stroke-width="0.8" stroke-opacity="0.5"/>
<circle cx="17.5" cy="51.2" r="5.8" fill="#c2b8dc" fill-opacity="0.8" stroke="#9c90c0" stroke-width="0.6" stroke-opacity="0.6"/>
<ellipse cx="16.9" cy="50.6" rx="4.65" ry="4.65" fill="url(#nd)"/>
<circle cx="10.3" cy="63" r="8.35" fill="none" stroke="#ecebf2" stroke-width="0.8" stroke-opacity="0.75"/>
<circle cx="10.3" cy="63" r="7.8" fill="#b0b0da" fill-opacity="0.88" stroke="#76769e" stroke-width="0.6" stroke-opacity="0.8"/>
<ellipse cx="13.4" cy="62" rx="5.55" ry="5.55" fill="url(#nd)"/>
<circle cx="25.8" cy="67.1" r="8.85" fill="none" stroke="#ecebf2" stroke-width="0.8" stroke-opacity="0.75"/>
<circle cx="25.8" cy="67.1" r="8.3" fill="#b0b0da" fill-opacity="0.88" stroke="#76769e" stroke-width="0.6" stroke-opacity="0.8"/>
<ellipse cx="24.4" cy="65.7" rx="6.75" ry="6.75" fill="url(#nd)"/>
<circle cx="47.9" cy="62.4" r="7.15" fill="none" stroke="#ecebf2" stroke-width="0.8" stroke-opacity="0.5"/>
<circle cx="47.9" cy="62.4" r="6.6" fill="#c2b8dc" fill-opacity="0.8" stroke="#9c90c0" stroke-width="0.6" stroke-opacity="0.6"/>
<ellipse cx="46.5" cy="61.6" rx="4.95" ry="4.95" fill="url(#nd)"/>
</g>
<g filter="url(#bt)"><rect x="62" y="72.10000000000001" width="12.400000000000006" height="1.6" fill="#1a1a1a"/></g>
</g>
<g transform="translate(435.0,24.5)" clip-path="url(#pc)">
<rect x="0" y="0" width="81.1" height="81" fill="#cdcac5"/>
<g filter="url(#bl)">
<circle cx="26.9" cy="13.4" r="9.55" fill="none" stroke="#ecebf2" stroke-width="0.8" stroke-opacity="0.45"/>
<circle cx="26.9" cy="13.4" r="9" fill="#d8cada" fill-opacity="0.75" stroke="#96807e" stroke-width="0.6" stroke-opacity="0.65"/>
<ellipse cx="26.4" cy="9.3" rx="4.35" ry="4.35" fill="url(#np)"/>
<ellipse cx="22.3" cy="14.9" rx="4.65" ry="4.65" fill="url(#np)"/>
<ellipse cx="32" cy="14" rx="4.35" ry="4.35" fill="url(#np)"/>
<circle cx="7.2" cy="28.5" r="6.55" fill="none" stroke="#ecebf2" stroke-width="0.8" stroke-opacity="0.45"/>
<circle cx="7.2" cy="28.5" r="6" fill="#d8cada" fill-opacity="0.75" stroke="#96807e" stroke-width="0.6" stroke-opacity="0.65"/>
<ellipse cx="7.2" cy="28.5" rx="4.65" ry="4.65" fill="url(#np)"/>
<circle cx="8.3" cy="38.2" r="7.15" fill="none" stroke="#ecebf2" stroke-width="0.8" stroke-opacity="0.45"/>
<circle cx="8.3" cy="38.2" r="6.6" fill="#d8cada" fill-opacity="0.75" stroke="#96807e" stroke-width="0.6" stroke-opacity="0.65"/>
<ellipse cx="8.7" cy="37.2" rx="4.65" ry="4.65" fill="url(#np)"/>
<circle cx="21.7" cy="39.3" r="6.75" fill="none" stroke="#ecebf2" stroke-width="0.8" stroke-opacity="0.45"/>
<circle cx="21.7" cy="39.3" r="6.2" fill="#d8cada" fill-opacity="0.75" stroke="#96807e" stroke-width="0.6" stroke-opacity="0.65"/>
<ellipse cx="21.7" cy="38.2" rx="4.65" ry="4.65" fill="url(#np)"/>
<circle cx="30" cy="35.1" r="7.15" fill="none" stroke="#ecebf2" stroke-width="0.8" stroke-opacity="0.45"/>
<circle cx="30" cy="35.1" r="6.6" fill="#d8cada" fill-opacity="0.75" stroke="#96807e" stroke-width="0.6" stroke-opacity="0.65"/>
<ellipse cx="30" cy="35.5" rx="4.65" ry="4.65" fill="url(#np)"/>
<circle cx="44.4" cy="46.5" r="6.75" fill="none" stroke="#ecebf2" stroke-width="0.8" stroke-opacity="0.45"/>
<circle cx="44.4" cy="46.5" r="6.2" fill="#d8cada" fill-opacity="0.75" stroke="#96807e" stroke-width="0.6" stroke-opacity="0.65"/>
<ellipse cx="43.4" cy="47.1" rx="4.35" ry="4.35" fill="url(#np)"/>
<circle cx="39.5" cy="55" r="6.05" fill="none" stroke="#ecebf2" stroke-width="0.8" stroke-opacity="0.45"/>
<circle cx="39.5" cy="55" r="5.5" fill="#d8cada" fill-opacity="0.75" stroke="#96807e" stroke-width="0.6" stroke-opacity="0.65"/>
<ellipse cx="39.3" cy="54.8" rx="4.65" ry="4.65" fill="url(#np)"/>
<circle cx="49.6" cy="55.8" r="6.75" fill="none" stroke="#ecebf2" stroke-width="0.8" stroke-opacity="0.45"/>
<circle cx="49.6" cy="55.8" r="6.2" fill="#d8cada" fill-opacity="0.75" stroke="#96807e" stroke-width="0.6" stroke-opacity="0.65"/>
<ellipse cx="48.6" cy="56.2" rx="4.35" ry="4.35" fill="url(#np)"/>
<circle cx="39.3" cy="66.1" r="8.35" fill="none" stroke="#ecebf2" stroke-width="0.8" stroke-opacity="0.45"/>
<circle cx="39.3" cy="66.1" r="7.8" fill="#d8cada" fill-opacity="0.75" stroke="#96807e" stroke-width="0.6" stroke-opacity="0.65"/>
<ellipse cx="35.5" cy="63" rx="6.15" ry="6.15" fill="url(#np)"/>
<circle cx="16.5" cy="70.2" r="7.75" fill="none" stroke="#ecebf2" stroke-width="0.8" stroke-opacity="0.45"/>
<circle cx="16.5" cy="70.2" r="7.2" fill="#d8cada" fill-opacity="0.75" stroke="#96807e" stroke-width="0.6" stroke-opacity="0.65"/>
<ellipse cx="19" cy="74.4" rx="4.35" ry="4.35" fill="url(#np)"/>
<circle cx="73.3" cy="62" r="6.6" fill="#cbc4d4" fill-opacity="0.6" stroke="#aaa0b6" stroke-width="0.6" stroke-opacity="0.5"/>
</g>
<g filter="url(#bt)"><rect x="59.5" y="72.10000000000001" width="14.5" height="1.6" fill="#1a1a1a"/></g>
</g>
<g transform="translate(267.3,113.8)" clip-path="url(#pc)">
<rect x="0" y="0" width="81.1" height="81" fill="#d1d2ce"/>
<g filter="url(#bl)">
<circle cx="66" cy="9.3" r="5" fill="#cbc4d4" fill-opacity="0.6" stroke="#aaa0b6" stroke-width="0.6" stroke-opacity="0.5"/>
<circle cx="4.1" cy="22.7" r="8.35" fill="none" stroke="#ecebf2" stroke-width="0.8" stroke-opacity="0.75"/>
<circle cx="4.1" cy="22.7" r="7.8" fill="#b0b0da" fill-opacity="0.88" stroke="#76769e" stroke-width="0.6" stroke-opacity="0.8"/>
<ellipse cx="3.7" cy="22.7" rx="7.50" ry="7.50" fill="url(#nu)"/>
<circle cx="42.4" cy="10.3" r="6.75" fill="none" stroke="#ecebf2" stroke-width="0.8" stroke-opacity="0.75"/>
<circle cx="42.4" cy="10.3" r="6.2" fill="#b0b0da" fill-opacity="0.88" stroke="#76769e" stroke-width="0.6" stroke-opacity="0.8"/>
<ellipse cx="43.4" cy="9.9" rx="5.25" ry="5.25" fill="url(#nn)"/>
<circle cx="50.6" cy="14.9" r="5.55" fill="none" stroke="#ecebf2" stroke-width="0.8" stroke-opacity="0.75"/>
<circle cx="50.6" cy="14.9" r="5" fill="#b0b0da" fill-opacity="0.88" stroke="#76769e" stroke-width="0.6" stroke-opacity="0.8"/>
<ellipse cx="50.6" cy="14.9" rx="4.05" ry="4.05" fill="url(#nn)"/>
<circle cx="41.3" cy="18.2" r="6.05" fill="none" stroke="#ecebf2" stroke-width="0.8" stroke-opacity="0.75"/>
<circle cx="41.3" cy="18.2" r="5.5" fill="#b0b0da" fill-opacity="0.88" stroke="#76769e" stroke-width="0.6" stroke-opacity="0.8"/>
<ellipse cx="41.3" cy="18.2" rx="5.25" ry="5.25" fill="url(#nn)"/>
<circle cx="60.3" cy="18.2" r="6.75" fill="none" stroke="#ecebf2" stroke-width="0.8" stroke-opacity="0.75"/>
<circle cx="60.3" cy="18.2" r="6.2" fill="#b0b0da" fill-opacity="0.88" stroke="#76769e" stroke-width="0.6" stroke-opacity="0.8"/>
<ellipse cx="59.9" cy="18.2" rx="6.15" ry="6.15" fill="url(#nn)"/>
<circle cx="51.2" cy="26.4" r="8.05" fill="none" stroke="#ecebf2" stroke-width="0.8" stroke-opacity="0.75"/>
<circle cx="51.2" cy="26.4" r="7.5" fill="#b0b0da" fill-opacity="0.88" stroke="#76769e" stroke-width="0.6" stroke-opacity="0.8"/>
<ellipse cx="51.2" cy="26.4" rx="8.70" ry="8.70" fill="url(#nq)"/>
<circle cx="35.1" cy="31" r="5.75" fill="none" stroke="#ecebf2" stroke-width="0.8" stroke-opacity="0.75"/>
<circle cx="35.1" cy="31" r="5.2" fill="#b0b0da" fill-opacity="0.88" stroke="#76769e" stroke-width="0.6" stroke-opacity="0.8"/>
<ellipse cx="35.5" cy="31.4" rx="4.35" ry="4.35" fill="url(#nn)"/>
<circle cx="25.8" cy="38.8" r="8.35" fill="none" stroke="#ecebf2" stroke-width="0.8" stroke-opacity="0.75"/>
<circle cx="25.8" cy="38.8" r="7.8" fill="#b0b0da" fill-opacity="0.88" stroke="#76769e" stroke-width="0.6" stroke-opacity="0.8"/>
<ellipse cx="26.9" cy="38.2" rx="6.75" ry="6.75" fill="url(#nn)"/>
<circle cx="43.8" cy="35.5" r="6.55" fill="none" stroke="#ecebf2" stroke-width="0.8" stroke-opacity="0.75"/>
<circle cx="43.8" cy="35.5" r="6" fill="#b0b0da" fill-opacity="0.88" stroke="#76769e" stroke-width="0.6" stroke-opacity="0.8"/>
<ellipse cx="43.8" cy="35.5" rx="5.55" ry="5.55" fill="url(#nn)"/>
<circle cx="36.2" cy="40.9" r="6.05" fill="none" stroke="#ecebf2" stroke-width="0.8" stroke-opacity="0.75"/>
<circle cx="36.2" cy="40.9" r="5.5" fill="#b0b0da" fill-opacity="0.88" stroke="#76769e" stroke-width="0.6" stroke-opacity="0.8"/>
<ellipse cx="36.2" cy="40.9" rx="4.65" ry="4.65" fill="url(#nn)"/>
<circle cx="53.7" cy="42.4" r="7.15" fill="none" stroke="#ecebf2" stroke-width="0.8" stroke-opacity="0.75"/>
<circle cx="53.7" cy="42.4" r="6.6" fill="#b0b0da" fill-opacity="0.88" stroke="#76769e" stroke-width="0.6" stroke-opacity="0.8"/>
<ellipse cx="55.8" cy="43" rx="5.55" ry="5.55" fill="url(#nn)"/>
<circle cx="65.1" cy="39.3" r="7.15" fill="none" stroke="#ecebf2" stroke-width="0.8" stroke-opacity="0.75"/>
<circle cx="65.1" cy="39.3" r="6.6" fill="#b0b0da" fill-opacity="0.88" stroke="#76769e" stroke-width="0.6" stroke-opacity="0.8"/>
<ellipse cx="65.1" cy="38.2" rx="6.15" ry="6.15" fill="url(#nn)"/>
<circle cx="56.8" cy="55.4" r="5.2" fill="#bfb9d8" fill-opacity="0.75" stroke="#a39bc2" stroke-width="0.6" stroke-opacity="0.55"/>
<ellipse cx="58.3" cy="55.4" rx="2.55" ry="2.55" fill="url(#nn)"/>
<circle cx="70.2" cy="54.1" r="8.85" fill="none" stroke="#ecebf2" stroke-width="0.8" stroke-opacity="0.75"/>
<circle cx="70.2" cy="54.1" r="8.3" fill="#b0b0da" fill-opacity="0.88" stroke="#76769e" stroke-width="0.6" stroke-opacity="0.8"/>
<ellipse cx="69.2" cy="54.1" rx="9.30" ry="9.30" fill="url(#nu)"/>
<circle cx="41.3" cy="76.9" r="6.35" fill="none" stroke="#ecebf2" stroke-width="0.8" stroke-opacity="0.75"/>
<circle cx="41.3" cy="76.9" r="5.8" fill="#b0b0da" fill-opacity="0.88" stroke="#76769e" stroke-width="0.6" stroke-opacity="0.8"/>
<ellipse cx="41.3" cy="78.1" rx="4.35" ry="4.35" fill="url(#nn)"/>
</g>
<g filter="url(#bt)"><rect x="61.6" y="71.9" width="12.399999999999999" height="1.6" fill="#1a1a1a"/><text x="6.2" y="67.7" font-size="9.1" fill="#111" style="stroke-width:0.38px">(200 µM)</text></g>
</g>
<g transform="translate(351.2,113.8)" clip-path="url(#pc)">
<rect x="0" y="0" width="81.1" height="81" fill="#cfcfcc"/>
<g filter="url(#bl)">
<circle cx="3" cy="12.4" r="11" fill="url(#mg)"/>
<ellipse cx="6.6" cy="9.9" rx="3.75" ry="3.75" fill="url(#nk)"/>
<circle cx="28.9" cy="9.3" r="7.75" fill="none" stroke="#ecebf2" stroke-width="0.8" stroke-opacity="0.75"/>
<circle cx="28.9" cy="9.3" r="7.2" fill="#b0b0da" fill-opacity="0.88" stroke="#76769e" stroke-width="0.6" stroke-opacity="0.8"/>
<ellipse cx="31" cy="11.4" rx="4.65" ry="4.65" fill="url(#nn)"/>
<circle cx="42.4" cy="16.5" r="8.35" fill="none" stroke="#ecebf2" stroke-width="0.8" stroke-opacity="0.75"/>
<circle cx="42.4" cy="16.5" r="7.8" fill="#b0b0da" fill-opacity="0.88" stroke="#76769e" stroke-width="0.6" stroke-opacity="0.8"/>
<ellipse cx="42.4" cy="17.6" rx="8.10" ry="8.10" fill="url(#nn)"/>
<circle cx="75.5" cy="17.5" r="15.5" fill="url(#mg)"/>
<ellipse cx="66.1" cy="16.9" rx="3.15" ry="3.15" fill="url(#nk)"/>
<circle cx="51.2" cy="33.1" r="7.95" fill="none" stroke="#ecebf2" stroke-width="0.8" stroke-opacity="0.75"/>
<circle cx="51.2" cy="33.1" r="7.4" fill="#b0b0da" fill-opacity="0.88" stroke="#76769e" stroke-width="0.6" stroke-opacity="0.8"/>
<ellipse cx="50.6" cy="33.5" rx="7.50" ry="7.50" fill="url(#nn)"/>
<circle cx="72.3" cy="39.3" r="5.6" fill="#dedee4" fill-opacity="0.8" stroke="#7c7c90" stroke-width="0.6" stroke-opacity="0.75"/>
<circle cx="44.4" cy="45.9" r="8.05" fill="none" stroke="#ecebf2" stroke-width="0.8" stroke-opacity="0.75"/>
<circle cx="44.4" cy="45.9" r="7.5" fill="#b0b0da" fill-opacity="0.88" stroke="#76769e" stroke-width="0.6" stroke-opacity="0.8"/>
<ellipse cx="44.4" cy="45.9" rx="8.70" ry="6.75" fill="url(#nn)"/>
<circle cx="34.1" cy="50.6" r="6.35" fill="none" stroke="#ecebf2" stroke-width="0.8" stroke-opacity="0.75"/>
<circle cx="34.1" cy="50.6" r="5.8" fill="#b0b0da" fill-opacity="0.88" stroke="#76769e" stroke-width="0.6" stroke-opacity="0.8"/>
<ellipse cx="35.5" cy="50.6" rx="4.35" ry="4.35" fill="url(#nn)"/>
<circle cx="55.8" cy="50.6" r="6.35" fill="none" stroke="#ecebf2" stroke-width="0.8" stroke-opacity="0.75"/>
<circle cx="55.8" cy="50.6" r="5.8" fill="#b0b0da" fill-opacity="0.88" stroke="#76769e" stroke-width="0.6" stroke-opacity="0.8"/>
<ellipse cx="56.2" cy="49.6" rx="4.35" ry="4.35" fill="url(#nn)"/>
<circle cx="43.4" cy="56.2" r="6.35" fill="none" stroke="#ecebf2" stroke-width="0.8" stroke-opacity="0.75"/>
<circle cx="43.4" cy="56.2" r="5.8" fill="#b0b0da" fill-opacity="0.88" stroke="#76769e" stroke-width="0.6" stroke-opacity="0.8"/>
<ellipse cx="43.4" cy="56.2" rx="4.65" ry="4.65" fill="url(#nn)"/>
<circle cx="19.6" cy="63" r="8.35" fill="none" stroke="#ecebf2" stroke-width="0.8" stroke-opacity="0.75"/>
<circle cx="19.6" cy="63" r="7.8" fill="#b0b0da" fill-opacity="0.88" stroke="#76769e" stroke-width="0.6" stroke-opacity="0.8"/>
<ellipse cx="20" cy="62.4" rx="7.50" ry="7.50" fill="url(#nn)"/>
<circle cx="40.3" cy="68.2" r="6.75" fill="none" stroke="#ecebf2" stroke-width="0.8" stroke-opacity="0.75"/>
<circle cx="40.3" cy="68.2" r="6.2" fill="#b0b0da" fill-opacity="0.88" stroke="#76769e" stroke-width="0.6" stroke-opacity="0.8"/>
<ellipse cx="40.3" cy="67.1" rx="4.95" ry="4.95" fill="url(#nn)"/>
<circle cx="52.7" cy="69.2" r="4.8" fill="#dedee4" fill-opacity="0.8" stroke="#7c7c90" stroke-width="0.6" stroke-opacity="0.75"/>
</g>
<g filter="url(#bt)"><rect x="62" y="71.9" width="14" height="1.6" fill="#1a1a1a"/></g>
</g>
<g transform="translate(435.0,113.8)" clip-path="url(#pc)">
<rect x="0" y="0" width="81.1" height="81" fill="#cccecb"/>
<g filter="url(#bl)">
<ellipse cx="55.4" cy="3.1" rx="2.10" ry="2.10" fill="url(#nk)"/>
<circle cx="9.9" cy="8.3" r="6.35" fill="none" stroke="#ecebf2" stroke-width="0.8" stroke-opacity="0.75"/>
<circle cx="9.9" cy="8.3" r="5.8" fill="#b0b0da" fill-opacity="0.88" stroke="#76769e" stroke-width="0.6" stroke-opacity="0.8"/>
<ellipse cx="9.9" cy="8.7" rx="4.95" ry="4.95" fill="url(#nn)"/>
<circle cx="12.8" cy="17.6" r="5.2" fill="#bfb9d8" fill-opacity="0.75" stroke="#a39bc2" stroke-width="0.6" stroke-opacity="0.55"/>
<ellipse cx="13.5" cy="18" rx="1.50" ry="1.50" fill="url(#nn)"/>
<circle cx="16.1" cy="26.4" r="6.75" fill="none" stroke="#ecebf2" stroke-width="0.8" stroke-opacity="0.75"/>
<circle cx="16.1" cy="26.4" r="6.2" fill="#b0b0da" fill-opacity="0.88" stroke="#76769e" stroke-width="0.6" stroke-opacity="0.8"/>
<ellipse cx="16.1" cy="26.4" rx="6.15" ry="6.15" fill="url(#nn)"/>
<circle cx="2" cy="35.1" r="9" fill="url(#mg)"/>
<circle cx="28.9" cy="30" r="7.75" fill="none" stroke="#ecebf2" stroke-width="0.8" stroke-opacity="0.75"/>
<circle cx="28.9" cy="30" r="7.2" fill="#b0b0da" fill-opacity="0.88" stroke="#76769e" stroke-width="0.6" stroke-opacity="0.8"/>
<ellipse cx="28.9" cy="30.6" rx="6.15" ry="6.15" fill="url(#nn)"/>
<circle cx="22.3" cy="39.3" r="6.55" fill="none" stroke="#ecebf2" stroke-width="0.8" stroke-opacity="0.75"/>
<circle cx="22.3" cy="39.3" r="6" fill="#b0b0da" fill-opacity="0.88" stroke="#76769e" stroke-width="0.6" stroke-opacity="0.8"/>
<ellipse cx="22.3" cy="39.3" rx="4.95" ry="4.95" fill="url(#nn)"/>
<circle cx="39.7" cy="36.2" r="7.15" fill="none" stroke="#ecebf2" stroke-width="0.8" stroke-opacity="0.75"/>
<circle cx="39.7" cy="36.2" r="6.6" fill="#b0b0da" fill-opacity="0.88" stroke="#76769e" stroke-width="0.6" stroke-opacity="0.8"/>
<ellipse cx="39.3" cy="37.2" rx="6.15" ry="6.15" fill="url(#nn)"/>
<circle cx="31" cy="43.4" r="5.55" fill="none" stroke="#ecebf2" stroke-width="0.8" stroke-opacity="0.75"/>
<circle cx="31" cy="43.4" r="5" fill="#b0b0da" fill-opacity="0.88" stroke="#76769e" stroke-width="0.6" stroke-opacity="0.8"/>
<ellipse cx="31" cy="43.4" rx="4.35" ry="4.35" fill="url(#nn)"/>
<circle cx="41.3" cy="47.5" r="7.55" fill="none" stroke="#ecebf2" stroke-width="0.8" stroke-opacity="0.75"/>
<circle cx="41.3" cy="47.5" r="7" fill="#b0b0da" fill-opacity="0.88" stroke="#76769e" stroke-width="0.6" stroke-opacity="0.8"/>
<ellipse cx="41.3" cy="47.5" rx="7.50" ry="7.50" fill="url(#nn)"/>
<circle cx="23.8" cy="48.6" r="5.55" fill="none" stroke="#ecebf2" stroke-width="0.8" stroke-opacity="0.75"/>
<circle cx="23.8" cy="48.6" r="5" fill="#b0b0da" fill-opacity="0.88" stroke="#76769e" stroke-width="0.6" stroke-opacity="0.8"/>
<ellipse cx="23.8" cy="48.6" rx="4.35" ry="4.35" fill="url(#nn)"/>
<circle cx="24.8" cy="56.8" r="6.35" fill="none" stroke="#ecebf2" stroke-width="0.8" stroke-opacity="0.75"/>
<circle cx="24.8" cy="56.8" r="5.8" fill="#b0b0da" fill-opacity="0.88" stroke="#76769e" stroke-width="0.6" stroke-opacity="0.8"/>
<ellipse cx="26.9" cy="56.2" rx="4.35" ry="4.35" fill="url(#nn)"/>
<circle cx="35.5" cy="56.2" r="6.05" fill="none" stroke="#ecebf2" stroke-width="0.8" stroke-opacity="0.75"/>
<circle cx="35.5" cy="56.2" r="5.5" fill="#b0b0da" fill-opacity="0.88" stroke="#76769e" stroke-width="0.6" stroke-opacity="0.8"/>
<ellipse cx="35.5" cy="56.2" rx="4.35" ry="4.35" fill="url(#nn)"/>
<circle cx="24.8" cy="65.1" r="4" fill="#bfb9d8" fill-opacity="0.75" stroke="#a39bc2" stroke-width="0.6" stroke-opacity="0.55"/>
<circle cx="32" cy="63" r="6.55" fill="none" stroke="#ecebf2" stroke-width="0.8" stroke-opacity="0.75"/>
<circle cx="32" cy="63" r="6" fill="#b0b0da" fill-opacity="0.88" stroke="#76769e" stroke-width="0.6" stroke-opacity="0.8"/>
<ellipse cx="32" cy="63" rx="4.95" ry="4.95" fill="url(#nn)"/>
<circle cx="40.3" cy="64" r="6.55" fill="none" stroke="#ecebf2" stroke-width="0.8" stroke-opacity="0.75"/>
<circle cx="40.3" cy="64" r="6" fill="#b0b0da" fill-opacity="0.88" stroke="#76769e" stroke-width="0.6" stroke-opacity="0.8"/>
<ellipse cx="40.3" cy="64" rx="5.25" ry="5.25" fill="url(#nn)"/>
<circle cx="31" cy="74" r="3.7" fill="#bfb9d8" fill-opacity="0.75" stroke="#a39bc2" stroke-width="0.6" stroke-opacity="0.55"/>
<circle cx="69.2" cy="23.8" r="6.6" fill="#b9a9d9" fill-opacity="0.85" stroke="#8e7cb8" stroke-width="0.6" stroke-opacity="0.8"/>
<ellipse cx="70.7" cy="14.9" rx="1.50" ry="1.50" fill="url(#nk)"/>
</g>
<g filter="url(#bt)"><rect x="61.6" y="72.10000000000001" width="13.199999999999996" height="1.6" fill="#1a1a1a"/></g>
</g>
<g transform="translate(267.3,213.2)" clip-path="url(#pc)">
<rect x="0" y="0" width="81.1" height="81" fill="#d1d0d0"/>
<g filter="url(#bl)">
<circle cx="44.4" cy="9.3" r="6.2" fill="#bfb9d8" fill-opacity="0.75" stroke="#a39bc2" stroke-width="0.6" stroke-opacity="0.55"/>
<circle cx="59.9" cy="11.4" r="7.2" fill="#bfb9d8" fill-opacity="0.75" stroke="#a39bc2" stroke-width="0.6" stroke-opacity="0.55"/>
<circle cx="12.8" cy="17.6" r="4.5" fill="#bfb9d8" fill-opacity="0.75" stroke="#a39bc2" stroke-width="0.6" stroke-opacity="0.55"/>
<ellipse cx="16.9" cy="21.7" rx="4.05" ry="4.05" fill="url(#nk)"/>
<ellipse cx="36.2" cy="30" rx="4.35" ry="4.35" fill="url(#nk)"/>
<circle cx="49.2" cy="25.9" r="9.85" fill="none" stroke="#ecebf2" stroke-width="0.8" stroke-opacity="0.5"/>
<circle cx="49.2" cy="25.9" r="9.3" fill="#aa90d4" fill-opacity="0.85" stroke="#8c70bc" stroke-width="0.6" stroke-opacity="0.65"/>
<ellipse cx="49.2" cy="25.9" rx="8.70" ry="8.70" fill="url(#np)"/>
<circle cx="64.5" cy="31" r="6.75" fill="none" stroke="#ecebf2" stroke-width="0.8" stroke-opacity="0.5"/>
<circle cx="64.5" cy="31" r="6.2" fill="#c2b8dc" fill-opacity="0.8" stroke="#9c90c0" stroke-width="0.6" stroke-opacity="0.6"/>
<ellipse cx="63.6" cy="31.4" rx="4.65" ry="4.65" fill="url(#nd)"/>
<circle cx="8.7" cy="50.6" r="7.15" fill="none" stroke="#ecebf2" stroke-width="0.8" stroke-opacity="0.5"/>
<circle cx="8.7" cy="50.6" r="6.6" fill="#aa90d4" fill-opacity="0.85" stroke="#8c70bc" stroke-width="0.6" stroke-opacity="0.65"/>
<ellipse cx="8.7" cy="50.6" rx="4.95" ry="4.95" fill="url(#nd)"/>
<circle cx="40.3" cy="49.6" r="3.7" fill="#bfb9d8" fill-opacity="0.75" stroke="#a39bc2" stroke-width="0.6" stroke-opacity="0.55"/>
<circle cx="38.8" cy="60.3" r="6.75" fill="none" stroke="#ecebf2" stroke-width="0.8" stroke-opacity="0.5"/>
<circle cx="38.8" cy="60.3" r="6.2" fill="#aa90d4" fill-opacity="0.85" stroke="#8c70bc" stroke-width="0.6" stroke-opacity="0.65"/>
<ellipse cx="38.8" cy="60.3" rx="4.65" ry="4.65" fill="url(#nd)"/>
<ellipse cx="24.8" cy="72.3" rx="4.05" ry="4.05" fill="url(#nk)"/>
<circle cx="28.9" cy="79.5" r="5.75" fill="none" stroke="#ecebf2" stroke-width="0.8" stroke-opacity="0.5"/>
<circle cx="28.9" cy="79.5" r="5.2" fill="#aa90d4" fill-opacity="0.85" stroke="#8c70bc" stroke-width="0.6" stroke-opacity="0.65"/>
<ellipse cx="31" cy="79.5" rx="3.75" ry="3.75" fill="url(#nd)"/>
</g>
<g filter="url(#bt)"><rect x="62" y="72.10000000000001" width="12.799999999999997" height="1.6" fill="#1a1a1a"/><text x="3.1" y="12.5" font-size="9.1" fill="#111" style="stroke-width:0.38px">(10 µg/ml)</text></g>
</g>
<g transform="translate(351.2,213.2)" clip-path="url(#pc)">
<rect x="0" y="0" width="81.1" height="81" fill="#c9c9c9"/>
<g filter="url(#bl)">
<circle cx="17.6" cy="26.9" r="9.3" fill="#cbc4d4" fill-opacity="0.6" stroke="#aaa0b6" stroke-width="0.6" stroke-opacity="0.5"/>
<circle cx="62" cy="38.2" r="9.3" fill="#cbc4d4" fill-opacity="0.6" stroke="#aaa0b6" stroke-width="0.6" stroke-opacity="0.5"/>
<circle cx="35.1" cy="38.2" r="6.2" fill="#cbc4d4" fill-opacity="0.6" stroke="#aaa0b6" stroke-width="0.6" stroke-opacity="0.5"/>
<circle cx="17.6" cy="10.3" r="6.6" fill="#d2c6da" fill-opacity="0.75" stroke="#a694ae" stroke-width="0.6" stroke-opacity="0.6"/>
<ellipse cx="20.2" cy="9.3" rx="4.35" ry="4.35" fill="url(#nm)"/>
<circle cx="32" cy="11.4" r="5.8" fill="#d2c6da" fill-opacity="0.75" stroke="#a694ae" stroke-width="0.6" stroke-opacity="0.6"/>
<ellipse cx="31" cy="10.3" rx="4.05" ry="4.05" fill="url(#nm)"/>
<circle cx="35.1" cy="25.8" r="7.8" fill="#d2c6da" fill-opacity="0.75" stroke="#a694ae" stroke-width="0.6" stroke-opacity="0.6"/>
<ellipse cx="33.1" cy="23.8" rx="4.65" ry="4.65" fill="url(#nm)"/>
<circle cx="49.6" cy="41.3" r="8.85" fill="none" stroke="#ecebf2" stroke-width="0.8" stroke-opacity="0.45"/>
<circle cx="49.6" cy="41.3" r="8.3" fill="#d8cada" fill-opacity="0.75" stroke="#96807e" stroke-width="0.6" stroke-opacity="0.65"/>
<ellipse cx="50.6" cy="40.3" rx="6.75" ry="6.75" fill="url(#nm)"/>
<circle cx="46.5" cy="56.8" r="10.3" fill="#cbc4d4" fill-opacity="0.6" stroke="#aaa0b6" stroke-width="0.6" stroke-opacity="0.5"/>
<ellipse cx="46.5" cy="59.9" rx="6.75" ry="5.25" fill="url(#nm)"/>
<circle cx="53.3" cy="67.1" r="5.05" fill="none" stroke="#ecebf2" stroke-width="0.8" stroke-opacity="0.45"/>
<circle cx="53.3" cy="67.1" r="4.5" fill="#d8cada" fill-opacity="0.75" stroke="#96807e" stroke-width="0.6" stroke-opacity="0.65"/>
<ellipse cx="54.1" cy="66.5" rx="4.05" ry="4.05" fill="url(#nm)"/>
</g>
<g filter="url(#bt)"><rect x="62" y="72.5" width="12.799999999999997" height="1.6" fill="#1a1a1a"/></g>
</g>
<g transform="translate(435.0,213.2)" clip-path="url(#pc)">
<rect x="0" y="0" width="81.1" height="81" fill="#cdcdc9"/>
<g filter="url(#bl)">
<ellipse cx="33.1" cy="4.5" rx="1.80" ry="1.80" fill="url(#nl)"/>
<circle cx="34.1" cy="19.6" r="6.35" fill="none" stroke="#ecebf2" stroke-width="0.8" stroke-opacity="0.45"/>
<circle cx="34.1" cy="19.6" r="5.8" fill="#d8cada" fill-opacity="0.75" stroke="#96807e" stroke-width="0.6" stroke-opacity="0.65"/>
<ellipse cx="35.5" cy="20.7" rx="4.05" ry="4.05" fill="url(#nd)"/>
<circle cx="53.7" cy="15.5" r="6.75" fill="none" stroke="#ecebf2" stroke-width="0.8" stroke-opacity="0.45"/>
<circle cx="53.7" cy="15.5" r="6.2" fill="#d8cada" fill-opacity="0.75" stroke="#96807e" stroke-width="0.6" stroke-opacity="0.65"/>
<ellipse cx="51.7" cy="19" rx="4.05" ry="4.05" fill="url(#nd)"/>
<circle cx="58.9" cy="23.8" r="6.35" fill="none" stroke="#ecebf2" stroke-width="0.8" stroke-opacity="0.45"/>
<circle cx="58.9" cy="23.8" r="5.8" fill="#d8cada" fill-opacity="0.75" stroke="#96807e" stroke-width="0.6" stroke-opacity="0.65"/>
<ellipse cx="56.2" cy="25.2" rx="3.75" ry="3.75" fill="url(#nd)"/>
<circle cx="44.4" cy="28.9" r="8.35" fill="none" stroke="#ecebf2" stroke-width="0.8" stroke-opacity="0.5"/>
<circle cx="44.4" cy="28.9" r="7.8" fill="#aa90d4" fill-opacity="0.85" stroke="#8c70bc" stroke-width="0.6" stroke-opacity="0.65"/>
<ellipse cx="44.4" cy="28.5" rx="6.15" ry="6.15" fill="url(#nd)"/>
<circle cx="41.3" cy="65.1" r="7.75" fill="none" stroke="#ecebf2" stroke-width="0.8" stroke-opacity="0.5"/>
<circle cx="41.3" cy="65.1" r="7.2" fill="#aa90d4" fill-opacity="0.85" stroke="#8c70bc" stroke-width="0.6" stroke-opacity="0.65"/>
<ellipse cx="40.9" cy="64.5" rx="6.75" ry="6.75" fill="url(#nd)"/>
<circle cx="49.6" cy="69.8" r="3.45" fill="none" stroke="#ecebf2" stroke-width="0.8" stroke-opacity="0.45"/>
<circle cx="49.6" cy="69.8" r="2.9" fill="#d8cada" fill-opacity="0.75" stroke="#96807e" stroke-width="0.6" stroke-opacity="0.65"/>
<circle cx="7.2" cy="44.4" r="5" fill="#d9d2da" fill-opacity="0.5" stroke="#b9a9bd" stroke-width="0.8"/>
<circle cx="23.8" cy="55.4" r="5" fill="#d9d2da" fill-opacity="0.5" stroke="#b9a9bd" stroke-width="0.8"/>
<circle cx="26.9" cy="33.1" r="2.3" fill="#d9d2da" fill-opacity="0.5" stroke="#b9a9bd" stroke-width="0.8"/>
</g>
<g filter="url(#bt)"><rect x="59.9" y="72.5" width="14.100000000000001" height="1.6" fill="#1a1a1a"/></g>
</g>
<g transform="translate(267.3,302.2)" clip-path="url(#pc)">
<rect x="0" y="0" width="81.1" height="81" fill="#cccacc"/>
<g filter="url(#bl)">
<circle cx="50.6" cy="25.8" r="7.2" fill="#bfb9d8" fill-opacity="0.75" stroke="#a39bc2" stroke-width="0.6" stroke-opacity="0.55"/>
<circle cx="52.7" cy="38.2" r="5.2" fill="#bfb9d8" fill-opacity="0.75" stroke="#a39bc2" stroke-width="0.6" stroke-opacity="0.55"/>
<circle cx="50.6" cy="9.9" r="7.15" fill="none" stroke="#ecebf2" stroke-width="0.8" stroke-opacity="0.5"/>
<circle cx="50.6" cy="9.9" r="6.6" fill="#c2b8dc" fill-opacity="0.8" stroke="#9c90c0" stroke-width="0.6" stroke-opacity="0.6"/>
<ellipse cx="50.6" cy="10.3" rx="6.15" ry="6.15" fill="url(#np)"/>
<circle cx="61.6" cy="9.9" r="3.05" fill="none" stroke="#ecebf2" stroke-width="0.8" stroke-opacity="0.5"/>
<circle cx="61.6" cy="9.9" r="2.5" fill="#c2b8dc" fill-opacity="0.8" stroke="#9c90c0" stroke-width="0.6" stroke-opacity="0.6"/>
<ellipse cx="62.5" cy="9.5" rx="1.65" ry="1.65" fill="url(#nk)"/>
<circle cx="12" cy="30" r="10.85" fill="none" stroke="#ecebf2" stroke-width="0.8" stroke-opacity="0.5"/>
<circle cx="12" cy="30" r="10.3" fill="#aa90d4" fill-opacity="0.85" stroke="#8c70bc" stroke-width="0.6" stroke-opacity="0.65"/>
<ellipse cx="12.8" cy="28.9" rx="10.80" ry="10.80" fill="url(#nl)"/>
<circle cx="31" cy="24.4" r="8.35" fill="none" stroke="#ecebf2" stroke-width="0.8" stroke-opacity="0.5"/>
<circle cx="31" cy="24.4" r="7.8" fill="#aa90d4" fill-opacity="0.85" stroke="#8c70bc" stroke-width="0.6" stroke-opacity="0.65"/>
<ellipse cx="31" cy="23.8" rx="8.70" ry="8.70" fill="url(#np)"/>
<circle cx="26.9" cy="39.3" r="7.15" fill="none" stroke="#ecebf2" stroke-width="0.8" stroke-opacity="0.75"/>
<circle cx="26.9" cy="39.3" r="6.6" fill="#b0b0da" fill-opacity="0.88" stroke="#76769e" stroke-width="0.6" stroke-opacity="0.8"/>
<ellipse cx="26.9" cy="39.3" rx="6.15" ry="6.15" fill="url(#nd)"/>
<circle cx="37.6" cy="36.8" r="6.55" fill="none" stroke="#ecebf2" stroke-width="0.8" stroke-opacity="0.5"/>
<circle cx="37.6" cy="36.8" r="6" fill="#aa90d4" fill-opacity="0.85" stroke="#8c70bc" stroke-width="0.6" stroke-opacity="0.65"/>
<ellipse cx="37.6" cy="36.8" rx="5.55" ry="5.55" fill="url(#np)"/>
<circle cx="33.1" cy="48.6" r="6.75" fill="none" stroke="#ecebf2" stroke-width="0.8" stroke-opacity="0.75"/>
<circle cx="33.1" cy="48.6" r="6.2" fill="#b0b0da" fill-opacity="0.88" stroke="#76769e" stroke-width="0.6" stroke-opacity="0.8"/>
<ellipse cx="33.1" cy="47.9" rx="5.55" ry="5.55" fill="url(#nd)"/>
<circle cx="70.2" cy="43.8" r="6.75" fill="none" stroke="#ecebf2" stroke-width="0.8" stroke-opacity="0.5"/>
<circle cx="70.2" cy="43.8" r="6.2" fill="#aa90d4" fill-opacity="0.85" stroke="#8c70bc" stroke-width="0.6" stroke-opacity="0.65"/>
<ellipse cx="70.2" cy="43.8" rx="4.95" ry="4.95" fill="url(#np)"/>
<circle cx="25.8" cy="71.3" r="7.75" fill="none" stroke="#ecebf2" stroke-width="0.8" stroke-opacity="0.5"/>
<circle cx="25.8" cy="71.3" r="7.2" fill="#aa90d4" fill-opacity="0.85" stroke="#8c70bc" stroke-width="0.6" stroke-opacity="0.65"/>
<ellipse cx="25.2" cy="71.3" rx="6.15" ry="6.15" fill="url(#np)"/>
</g>
<g filter="url(#bt)"><rect x="62" y="72.5" width="12.799999999999997" height="1.6" fill="#1a1a1a"/><text x="3.1" y="11.9" font-size="9.1" fill="#111" style="stroke-width:0.38px">(100 µM)</text></g>
</g>
<g transform="translate(351.2,302.2)" clip-path="url(#pc)">
<rect x="0" y="0" width="81.1" height="81" fill="#cccbcc"/>
<g filter="url(#bl)">
<circle cx="6" cy="30.5" r="9.5" fill="url(#mg)"/>
<circle cx="50.6" cy="36.2" r="6.6" fill="#bfb9d8" fill-opacity="0.75" stroke="#a39bc2" stroke-width="0.6" stroke-opacity="0.55"/>
<circle cx="51.7" cy="48.6" r="5.8" fill="#bfb9d8" fill-opacity="0.75" stroke="#a39bc2" stroke-width="0.6" stroke-opacity="0.55"/>
<circle cx="14.5" cy="64" r="7.8" fill="#bfb9d8" fill-opacity="0.75" stroke="#a39bc2" stroke-width="0.6" stroke-opacity="0.55"/>
<circle cx="74.8" cy="58.3" r="5.2" fill="#cbc4d4" fill-opacity="0.6" stroke="#aaa0b6" stroke-width="0.6" stroke-opacity="0.5"/>
<circle cx="44.4" cy="9.3" r="6.2" fill="#bfb9d8" fill-opacity="0.75" stroke="#a39bc2" stroke-width="0.6" stroke-opacity="0.55"/>
<ellipse cx="44.4" cy="9.3" rx="5.55" ry="5.55" fill="url(#np)"/>
<circle cx="32" cy="21.7" r="7.15" fill="none" stroke="#ecebf2" stroke-width="0.8" stroke-opacity="0.5"/>
<circle cx="32" cy="21.7" r="6.6" fill="#c2b8dc" fill-opacity="0.8" stroke="#9c90c0" stroke-width="0.6" stroke-opacity="0.6"/>
<ellipse cx="32" cy="22.7" rx="4.65" ry="4.65" fill="url(#nd)"/>
<circle cx="22.7" cy="34.1" r="8.35" fill="none" stroke="#ecebf2" stroke-width="0.8" stroke-opacity="0.5"/>
<circle cx="22.7" cy="34.1" r="7.8" fill="#c2b8dc" fill-opacity="0.8" stroke="#9c90c0" stroke-width="0.6" stroke-opacity="0.6"/>
<ellipse cx="22.3" cy="34.1" rx="6.75" ry="6.75" fill="url(#np)"/>
<circle cx="41.3" cy="31" r="6.55" fill="none" stroke="#ecebf2" stroke-width="0.8" stroke-opacity="0.5"/>
<circle cx="41.3" cy="31" r="6" fill="#c2b8dc" fill-opacity="0.8" stroke="#9c90c0" stroke-width="0.6" stroke-opacity="0.6"/>
<ellipse cx="41.3" cy="31" rx="4.95" ry="4.95" fill="url(#nd)"/>
<circle cx="11.4" cy="44.4" r="7.15" fill="none" stroke="#ecebf2" stroke-width="0.8" stroke-opacity="0.5"/>
<circle cx="11.4" cy="44.4" r="6.6" fill="#c2b8dc" fill-opacity="0.8" stroke="#9c90c0" stroke-width="0.6" stroke-opacity="0.6"/>
<ellipse cx="13.4" cy="43.8" rx="4.95" ry="4.95" fill="url(#nd)"/>
<circle cx="33.1" cy="48.6" r="10.85" fill="none" stroke="#ecebf2" stroke-width="0.8" stroke-opacity="0.5"/>
<circle cx="33.1" cy="48.6" r="10.3" fill="#c2b8dc" fill-opacity="0.8" stroke="#9c90c0" stroke-width="0.6" stroke-opacity="0.6"/>
<ellipse cx="33.1" cy="47.5" rx="9.30" ry="9.30" fill="url(#nl)"/>
<circle cx="18.2" cy="52.7" r="6.05" fill="none" stroke="#ecebf2" stroke-width="0.8" stroke-opacity="0.5"/>
<circle cx="18.2" cy="52.7" r="5.5" fill="#c2b8dc" fill-opacity="0.8" stroke="#9c90c0" stroke-width="0.6" stroke-opacity="0.6"/>
<ellipse cx="18.2" cy="52.7" rx="4.65" ry="4.65" fill="url(#nd)"/>
<circle cx="49.2" cy="59.9" r="7.15" fill="none" stroke="#ecebf2" stroke-width="0.8" stroke-opacity="0.5"/>
<circle cx="49.2" cy="59.9" r="6.6" fill="#c2b8dc" fill-opacity="0.8" stroke="#9c90c0" stroke-width="0.6" stroke-opacity="0.6"/>
<ellipse cx="48.6" cy="59.9" rx="5.25" ry="5.25" fill="url(#np)"/>
<circle cx="32" cy="66.1" r="9.25" fill="none" stroke="#ecebf2" stroke-width="0.8" stroke-opacity="0.5"/>
<circle cx="32" cy="66.1" r="8.7" fill="#c2b8dc" fill-opacity="0.8" stroke="#9c90c0" stroke-width="0.6" stroke-opacity="0.6"/>
<ellipse cx="33.1" cy="66.5" rx="7.50" ry="7.50" fill="url(#np)"/>
<circle cx="56.8" cy="73.3" r="7.75" fill="none" stroke="#ecebf2" stroke-width="0.8" stroke-opacity="0.5"/>
<circle cx="56.8" cy="73.3" r="7.2" fill="#c2b8dc" fill-opacity="0.8" stroke="#9c90c0" stroke-width="0.6" stroke-opacity="0.6"/>
<ellipse cx="55.4" cy="74.8" rx="4.65" ry="4.65" fill="url(#nd)"/>
<ellipse cx="62.4" cy="71.3" rx="4.95" ry="4.95" fill="url(#nd)"/>
</g>
<g filter="url(#bt)"><rect x="11.4" y="76.2" width="13.4" height="1.6" fill="#1a1a1a"/></g>
</g>
<g transform="translate(435.0,302.2)" clip-path="url(#pc)">
<rect x="0" y="0" width="81.1" height="81" fill="#cdcecb"/>
<g filter="url(#bl)">
<circle cx="44.4" cy="44.4" r="7.2" fill="#cbc4d4" fill-opacity="0.6" stroke="#aaa0b6" stroke-width="0.6" stroke-opacity="0.5"/>
<circle cx="24.4" cy="50.6" r="5.8" fill="#bfb9d8" fill-opacity="0.75" stroke="#a39bc2" stroke-width="0.6" stroke-opacity="0.55"/>
<circle cx="37.6" cy="73.3" r="7.2" fill="#bfb9d8" fill-opacity="0.75" stroke="#a39bc2" stroke-width="0.6" stroke-opacity="0.55"/>
<circle cx="64" cy="4.1" r="7.75" fill="none" stroke="#ecebf2" stroke-width="0.8" stroke-opacity="0.5"/>
<circle cx="64" cy="4.1" r="7.2" fill="#c2b8dc" fill-opacity="0.8" stroke="#9c90c0" stroke-width="0.6" stroke-opacity="0.6"/>
<ellipse cx="64.5" cy="4.5" rx="6.15" ry="6.15" fill="url(#nd)"/>
<circle cx="62" cy="13.4" r="5.75" fill="none" stroke="#ecebf2" stroke-width="0.8" stroke-opacity="0.5"/>
<circle cx="62" cy="13.4" r="5.2" fill="#c2b8dc" fill-opacity="0.8" stroke="#9c90c0" stroke-width="0.6" stroke-opacity="0.6"/>
<ellipse cx="59.9" cy="13.4" rx="4.35" ry="4.35" fill="url(#nk)"/>
<circle cx="42.4" cy="21.7" r="8.3" fill="#bfb9d8" fill-opacity="0.75" stroke="#a39bc2" stroke-width="0.6" stroke-opacity="0.55"/>
<ellipse cx="43.8" cy="19.6" rx="6.15" ry="6.15" fill="url(#nd)"/>
<circle cx="55.4" cy="24.8" r="7.75" fill="none" stroke="#ecebf2" stroke-width="0.8" stroke-opacity="0.5"/>
<circle cx="55.4" cy="24.8" r="7.2" fill="#c2b8dc" fill-opacity="0.8" stroke="#9c90c0" stroke-width="0.6" stroke-opacity="0.6"/>
<ellipse cx="55.4" cy="23.1" rx="5.55" ry="5.55" fill="url(#nd)"/>
<circle cx="63" cy="35.1" r="6.75" fill="none" stroke="#ecebf2" stroke-width="0.8" stroke-opacity="0.5"/>
<circle cx="63" cy="35.1" r="6.2" fill="#c2b8dc" fill-opacity="0.8" stroke="#9c90c0" stroke-width="0.6" stroke-opacity="0.6"/>
<ellipse cx="63.6" cy="34.1" rx="4.95" ry="4.95" fill="url(#np)"/>
<circle cx="56.8" cy="48.6" r="7.8" fill="#bfb9d8" fill-opacity="0.75" stroke="#a39bc2" stroke-width="0.6" stroke-opacity="0.55"/>
<ellipse cx="56.2" cy="46.5" rx="5.55" ry="5.55" fill="url(#np)"/>
<ellipse cx="2.5" cy="37.2" rx="2.70" ry="2.70" fill="url(#nm)"/>
<circle cx="8.3" cy="44.4" r="6.75" fill="none" stroke="#ecebf2" stroke-width="0.8" stroke-opacity="0.45"/>
<circle cx="8.3" cy="44.4" r="6.2" fill="#d8cada" fill-opacity="0.75" stroke="#96807e" stroke-width="0.6" stroke-opacity="0.65"/>
<ellipse cx="9.3" cy="49.6" rx="4.95" ry="4.95" fill="url(#nk)"/>
</g>
<g filter="url(#bt)"><rect x="55.4" y="72.10000000000001" width="13.800000000000004" height="1.6" fill="#1a1a1a"/></g>
</g>
</svg></body></html>
